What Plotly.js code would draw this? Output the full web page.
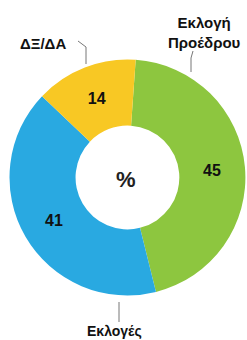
<!DOCTYPE html>
<html>
<head>
<meta charset="utf-8">
<script src="https://cdn.plot.ly/plotly-3.0.1.min.js"></script>
<style>html,body{margin:0;padding:0;background:#fff;}#chart{width:247px;height:340px;}</style>
</head>
<body>
<div id="chart"></div>
<script>
const labels = ['Εκλογή Προέδρου', 'Εκλογές', 'ΔΞ/ΔΑ'];
const values = [45, 41, 14];
const colors = ['#8DC63F', '#29A9E1', '#F8C824'];
const labelLines = ['Εκλογή<br>Προέδρου', 'Εκλογές', 'ΔΞ/ΔΑ'];

const trace = {
  type: 'pie',
  labels: labels,
  values: values,
  sort: false,
  direction: 'clockwise',
  rotation: 4,
  hole: 0.44,
  marker: {colors: colors, line: {width: 0}},
  texttemplate: '<b>%{value}</b>',
  textposition: 'inside',
  insidetextorientation: 'horizontal',
  textfont: {family: 'Liberation Sans Narrow, Liberation Sans, Arial, sans-serif', size: 16, color: '#111'},
  domain: {x: [0.0385, 0.9935], y: [0.13, 0.826]},
  showlegend: false,
  hoverinfo: 'none'
};

const lab = {family: 'Liberation Sans, Arial, sans-serif', size: 14, color: '#111'};
const layout = {
  width: 247, height: 340,
  margin: {l: 0, r: 0, t: 0, b: 0},
  paper_bgcolor: '#fff',
  showlegend: false,
  annotations: [
    {xref: 'paper', yref: 'paper', x: 204/247, y: 1 - 32/340, text: labelLines[0], showarrow: false,
     font: Object.assign({}, lab, {size: 15, weight: 600}), xanchor: 'center', yanchor: 'middle', align: 'center'},
    {xref: 'paper', yref: 'paper', x: 114/247, y: 1 - 331/340, text: labelLines[1], showarrow: false,
     font: Object.assign({}, lab, {weight: 600}), xanchor: 'center', yanchor: 'middle'},
    {xref: 'paper', yref: 'paper', x: 43/247, y: 1 - 43/340, text: '<b>' + labelLines[2] + '</b>', showarrow: false,
     font: Object.assign({}, lab, {size: 15}), xanchor: 'center', yanchor: 'middle'},
    {xref: 'paper', yref: 'paper', x: 126/247, y: 1 - 179/340, text: '%', showarrow: false,
     font: {family: 'Liberation Sans, Arial, sans-serif', size: 22, color: '#222', weight: 600}, xanchor: 'center', yanchor: 'middle'}
  ],
  shapes: [
    {type: 'path', xref: 'paper', yref: 'paper', line: {color: '#777', width: 1},
     path: 'M ' + (78/247) + ' ' + (1 - 41/340) + ' L ' + (86/247) + ' ' + (1 - 47/340) + ' L ' + (86/247) + ' ' + (1 - 64/340)},
    {type: 'path', xref: 'paper', yref: 'paper', line: {color: '#777', width: 1},
     path: 'M ' + (193/247) + ' ' + (1 - 51/340) + ' L ' + (191/247) + ' ' + (1 - 58/340) + ' L ' + (191/247) + ' ' + (1 - 72/340)},
    {type: 'line', xref: 'paper', yref: 'paper', line: {color: '#777', width: 1},
     x0: 119/247, x1: 119/247, y0: 1 - 302/340, y1: 1 - 322/340}
  ]
};

Plotly.newPlot('chart', [trace], layout, {staticPlot: true, displayModeBar: false});
</script>
</body>
</html>
